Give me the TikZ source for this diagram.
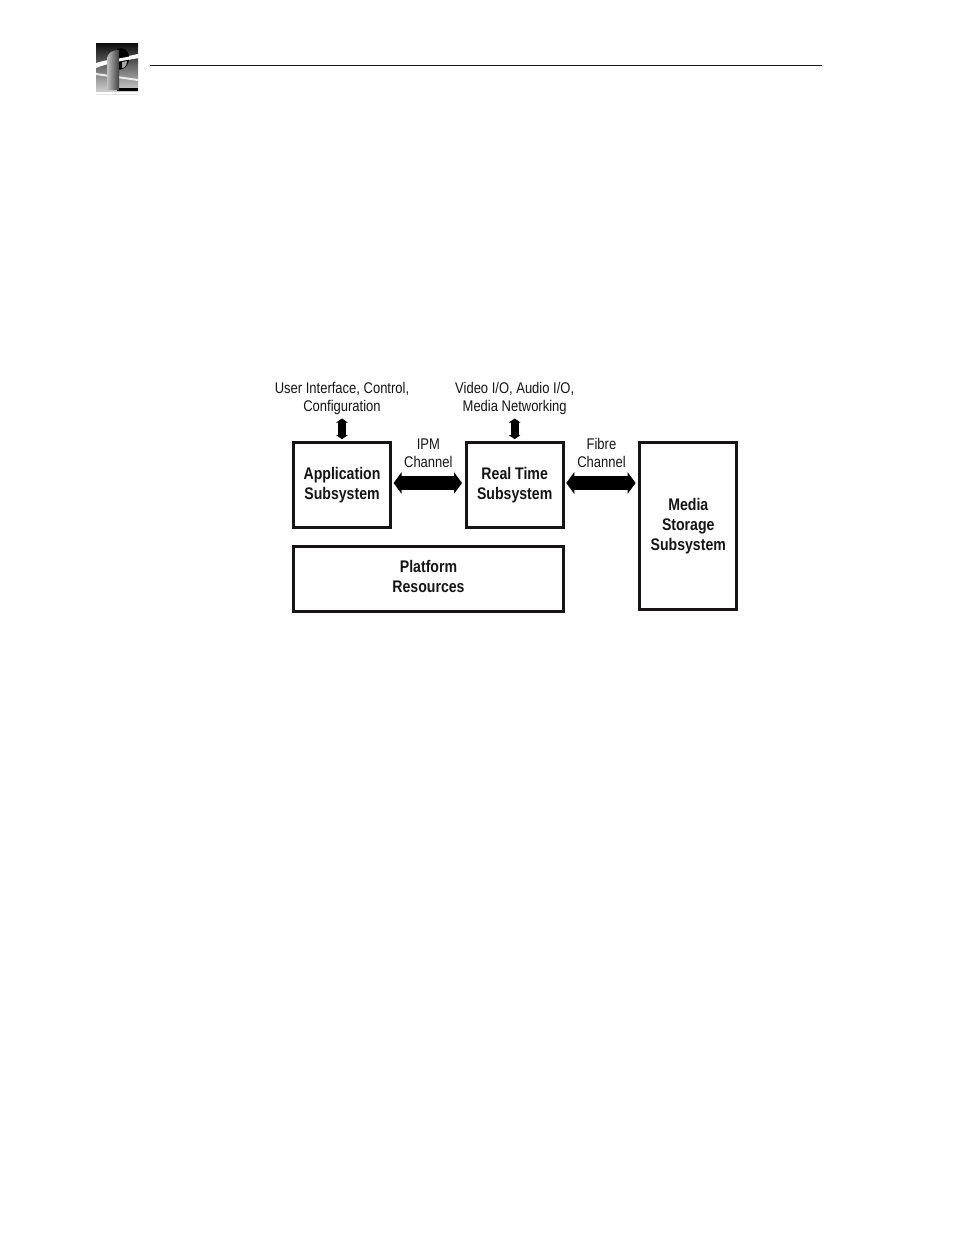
\documentclass[tikz,border=0pt]{standalone}
\usepackage{xcolor}
\usepackage{fontspec}
\setmainfont[FakeStretch=0.84]{Liberation Sans}
\usepackage{tikz}
\usetikzlibrary{positioning, arrows.meta}
\definecolor{ink}{HTML}{161415}
\tikzstyle{subsystem} = [rectangle, minimum width=72.75pt, minimum height=63.5pt, align=center, draw=ink, line width=2.25pt, inner sep=0pt, font=\bfseries\fontsize{12.6}{15}\selectfont, text=ink]
\tikzstyle{caption} = [align=center, inner sep=0pt, font=\fontsize{11.6}{13.5}\selectfont, text=ink]
\tikzstyle{bus} = [{Triangle[length=6pt, width=16pt]}-{Triangle[length=6pt, width=16pt]}, line width=10.5pt, black, shorten <=1.2pt, shorten >=2pt]
\tikzstyle{link} = [{Triangle[length=3pt, width=8.5pt]}-{Triangle[length=3pt, width=8.5pt]}, line width=6pt, black, shorten <=2.5pt, shorten >=1.5pt]

\begin{document}
\begin{tikzpicture}[x=0.75pt, y=-0.75pt]
		\useasboundingbox (0,0) rectangle (954,1235);
		% page header
		\shade [top color=black!95, middle color=black!50, bottom color=black!20] (96,43) rectangle (138,91);
		\fill [white] (96,63) .. controls (105,60) and (125,57) .. (138,54) -- (138,58) .. controls (125,60) and (105,64) .. (96,68) -- cycle;
		\fill [black!8] (96,73) -- (138,79) -- (138,81) -- (96,75) -- cycle;
		\fill [black] (117,49) .. controls (123,46) and (129,50) .. (129,58) .. controls (129,66) and (124,70) .. (117,70) -- cycle;
		\fill [black!35] (122,62) -- (127,61) .. controls (127,65) and (125,68) .. (122,68) -- cycle;
		\fill [white] (116,59) -- (138,55) -- (138,58) -- (116,62) -- cycle;
		\fill [black] (117,88) rectangle (138,91);
		\shade [left color=black!25, right color=black!75] (107,90) -- (107,60) .. controls (107,53) and (112,50) .. (119,50) -- (119,90) -- cycle;
		\fill [black!10] (96,94) rectangle (138,94.7);
		\coordinate (Rule Start) at (150,65.7);
		\coordinate (Rule End) at (822,65.7);
		\draw [line width=0.6pt, ink] (Rule Start) -- (Rule End);
		% blocks
		\node (Application) at (342,485) [subsystem]{Application\\Subsystem};
		\node (Real Time)[subsystem, right = 54.5pt of Application]{Real Time\\Subsystem};
		\node (Media)[subsystem, minimum height=125pt, right = 55.2pt of Real Time.north east, anchor=north west]{Media\\Storage\\Subsystem\\[-13pt]};
		\node (Platform)[subsystem, minimum width=202.5pt, minimum height=48.5pt, below = 12.4pt of Application.south west, anchor=north west]{Platform\\Resources\\[-11pt]};
		% outside connections
		\node (Interface)[caption, above = 19.5pt of Application]{User Interface, Control,\\Configuration};
		\node (Video)[caption, above = 19.5pt of Real Time]{Video I/O, Audio I/O,\\Media Networking};
		\draw [link] (Interface) -- (Application);
		\draw [link] (Video) -- (Real Time);
		% channels
		\draw [bus] ([yshift=1.5pt]Application.east) -- node (IPM)[caption, above = 6.5pt]{IPM\\Channel} ([yshift=1.5pt]Real Time.west);
		\draw [bus] ([yshift=1.5pt]Real Time.east) -- node (Fibre)[caption, above = 6.5pt]{Fibre\\Channel} ([yshift=1.5pt]Real Time.east -| Media.west);
	\end{tikzpicture}
\end{document}
